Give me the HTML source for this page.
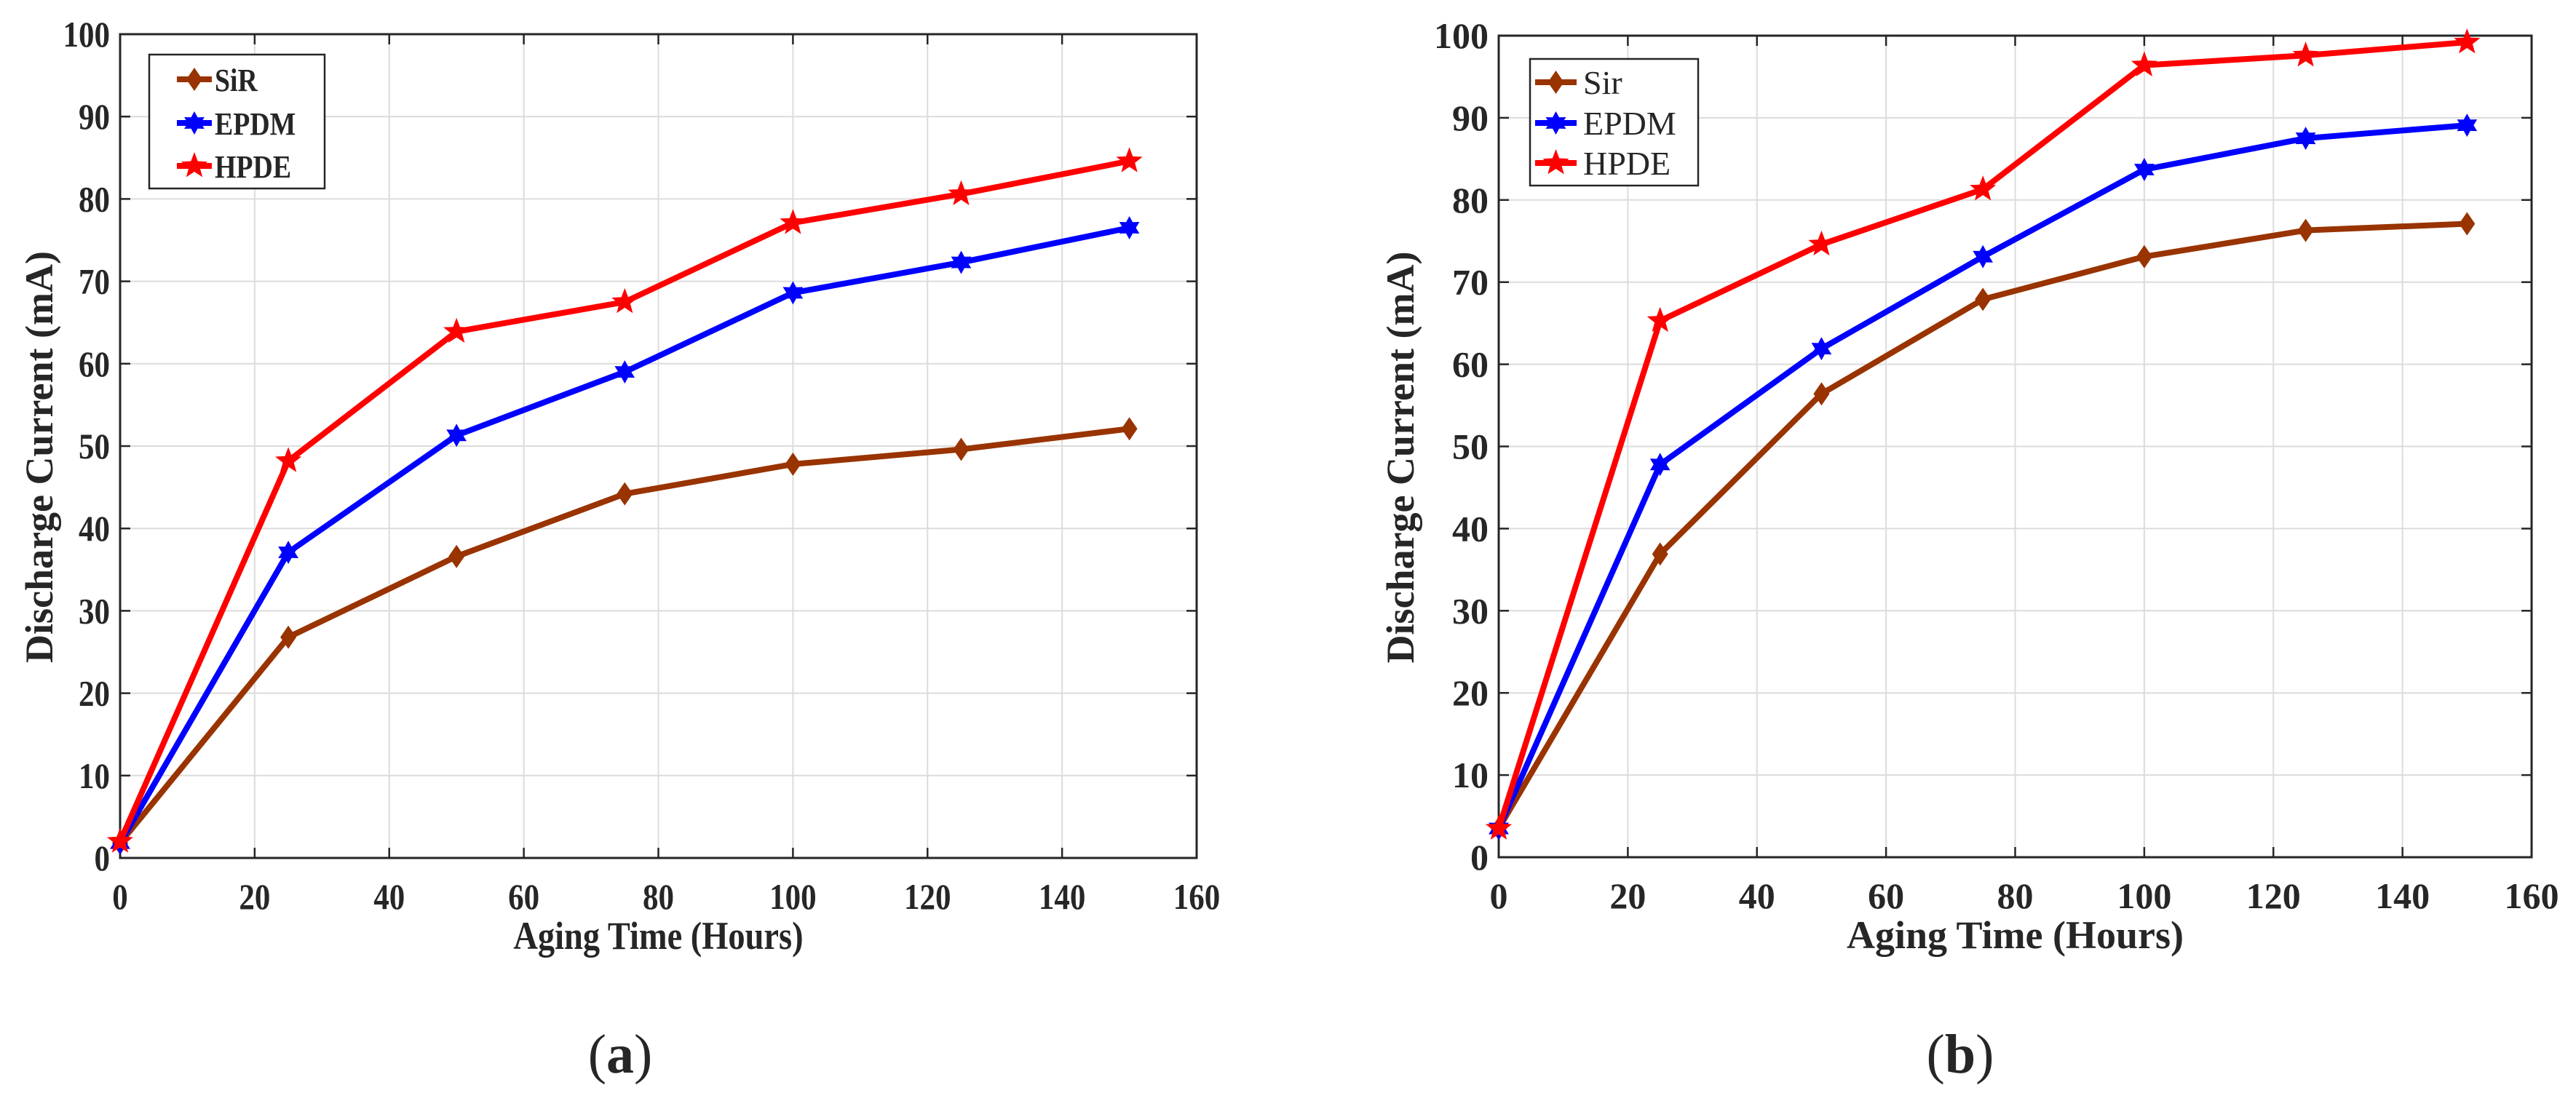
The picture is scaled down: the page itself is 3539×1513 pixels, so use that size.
<!DOCTYPE html>
<html><head><meta charset="utf-8"><title>Discharge Current vs Aging Time</title>
<style>
html,body{margin:0;padding:0;background:#fff;}
svg{display:block;}
text{font-family:"Liberation Serif",serif;fill:#262626;}
</style></head>
<body>
<svg id="fig" width="3539" height="1513" viewBox="0 0 3539 1513" xmlns="http://www.w3.org/2000/svg">
<rect x="0" y="0" width="3539" height="1513" fill="#fff"/>
</svg>
<script>
const xValues = [0, 25, 50, 75, 100, 125, 150];
const xTicks = [0, 20, 40, 60, 80, 100, 120, 140, 160];
const yTicks = [0, 10, 20, 30, 40, 50, 60, 70, 80, 90, 100];
const seriesNamesA = ["SiR", "EPDM", "HPDE"];
const sirA = [1.8, 26.8, 36.6, 44.2, 47.8, 49.6, 52.1];
const epdmA = [1.8, 37.1, 51.3, 59.0, 68.6, 72.3, 76.5];
const hpdeA = [2.0, 48.2, 63.9, 67.5, 77.1, 80.6, 84.6];
const seriesNamesB = ["Sir", "EPDM", "HPDE"];
const sirB = [3.5, 36.9, 56.4, 67.9, 73.1, 76.3, 77.1];
const epdmB = [3.5, 47.8, 61.9, 73.1, 83.7, 87.5, 89.1];
const hpdeB = [3.5, 65.3, 74.6, 81.3, 96.4, 97.6, 99.2];

const NS = "http://www.w3.org/2000/svg";
const svg = document.getElementById('fig');
function mk(tag, attrs, parent) {
  const e = document.createElementNS(NS, tag);
  for (const k in attrs) e.setAttribute(k, attrs[k]);
  (parent || svg).appendChild(e);
  return e;
}
const colors = ["#993300", "#0000ff", "#ff0000"];
const markers = ["diamond", "hexagram", "pentagram"];

function markerPath(type, cx, cy) {
  if (type === "diamond") {
    return `M${cx},${cy-16} L${cx+11},${cy} L${cx},${cy+16} L${cx-11},${cy} Z`;
  }
  let pts = [], n = type === "pentagram" ? 5 : 6;
  let R = type === "pentagram" ? 19 : 16, r = type === "pentagram" ? 8 : 9;
  for (let i = 0; i < 2 * n; i++) {
    const a = -Math.PI / 2 + i * Math.PI / n;
    const rr = i % 2 === 0 ? R : r;
    pts.push((cx + rr * Math.cos(a)).toFixed(1) + "," + (cy + rr * Math.sin(a)).toFixed(1));
  }
  return "M" + pts.join(" L") + " Z";
}

function drawChart(cfg) {
  const g = mk('g', {});
  
  
  const L = cfg.left, R = cfg.right, T = cfg.top, B = cfg.bottom;
  const sx = v => L + (v - 0) / 160 * (R - L);
  const sy = v => B - v / 100 * (B - T);
  xTicks.forEach(t => {
    if (t === 0 || t === 160) return;
    const l = mk('line', {x1: sx(t), x2: sx(t), y1: T, y2: B, stroke: '#dcdcdc', 'stroke-width': 2}, g);
    
    
  });
  yTicks.forEach(t => {
    if (t === 0 || t === 100) return;
    const l = mk('line', {x1: L, x2: R, y1: sy(t), y2: sy(t), stroke: '#dcdcdc', 'stroke-width': 2}, g);
    
    
  });
  xTicks.forEach(t => {
    const x = sx(t);
    mk('line', {x1: x, x2: x, y1: B, y2: B - 14, stroke: '#262626', 'stroke-width': 2.5}, g);
    mk('line', {x1: x, x2: x, y1: T, y2: T + 14, stroke: '#262626', 'stroke-width': 2.5}, g);
    const tx = mk('text', {x: x, y: B + 70, 'text-anchor': 'middle', 'font-size': cfg.tickFs, 'font-weight': 'bold'}, g);
    if (cfg.sqx !== 1) tx.setAttribute('transform', `translate(${x},0) scale(${cfg.sqx},1) translate(${-x},0)`);
    tx.textContent = t;
    
    
  });
  yTicks.forEach(t => {
    const y = sy(t);
    mk('line', {x1: L, x2: L + 14, y1: y, y2: y, stroke: '#262626', 'stroke-width': 2.5}, g);
    mk('line', {x1: R, x2: R - 14, y1: y, y2: y, stroke: '#262626', 'stroke-width': 2.5}, g);
    const ax = L - 14;
    const tx = mk('text', {x: ax, y: y + 17, 'text-anchor': 'end', 'font-size': cfg.tickFs, 'font-weight': 'bold'}, g);
    if (cfg.sqx !== 1) tx.setAttribute('transform', `translate(${ax},0) scale(${cfg.sqx},1) translate(${-ax},0)`);
    tx.textContent = t;
    
    
  });
  const box = mk('rect', {x: L, y: T, width: R - L, height: B - T, fill: 'none', stroke: '#262626', 'stroke-width': 3}, g);
  
  
  cfg.series.forEach((vals, si) => {
    const d = vals.map((v, i) => (i ? 'L' : 'M') + sx(xValues[i]).toFixed(1) + ',' + sy(v).toFixed(1)).join(' ');
    const p = mk('path', {d: d, fill: 'none', stroke: colors[si], 'stroke-width': 8, 'stroke-linejoin': 'round'}, g);
    
    
    vals.forEach((v, i) => {
      const m = mk('path', {d: markerPath(markers[si], sx(xValues[i]), sy(v)), fill: colors[si]}, g);
      
      
    });
  });
  const lg = mk('g', {}, g);
  
  
  const lb = cfg.legend;
  mk('rect', {x: lb.x, y: lb.y, width: lb.w, height: lb.h, fill: '#fff', stroke: '#262626', 'stroke-width': 2.5}, lg);
  cfg.names.forEach((n, si) => {
    const y = lb.rows[si];
    const e = mk('g', {}, lg);
    
    
    mk('line', {x1: lb.lx1, x2: lb.lx2, y1: y, y2: y, stroke: colors[si], 'stroke-width': 8}, e);
    mk('path', {d: markerPath(markers[si], (lb.lx1 + lb.lx2) / 2, y), fill: colors[si]}, e);
    const tx = mk('text', {x: lb.tx, y: y + 16, 'font-size': lb.fs, 'font-weight': lb.bold ? 'bold' : 'normal', fill: '#000'}, e);
    if (cfg.sqx !== 1) tx.setAttribute('transform', `translate(${lb.tx},0) scale(${cfg.sqx},1) translate(${-lb.tx},0)`);
    tx.textContent = n;
  });
  const xc = (L + R) / 2;
  const xt = mk('text', {x: xc, y: B + 125, 'text-anchor': 'middle', 'font-size': cfg.titleFs, 'font-weight': 'bold'}, g);
  if (cfg.sqx !== 1) xt.setAttribute('transform', `translate(${xc},0) scale(${cfg.sqx},1) translate(${-xc},0)`);
  xt.textContent = 'Aging Time (Hours)';
  
  
  const yc = (T + B) / 2 + 15;
  const yt = mk('text', {x: 0, y: 0, 'text-anchor': 'middle', 'font-size': cfg.titleFs, 'font-weight': 'bold', transform: `translate(${cfg.ytx},${yc}) rotate(-90)`}, g);
  yt.textContent = 'Discharge Current (mA)';
  
  
  const cap = mk('text', {x: cfg.capX, y: 1474, 'text-anchor': 'middle', 'font-size': 76, fill: '#000'}, g);
  cap.innerHTML = '(<tspan font-weight="bold">' + cfg.cap + '</tspan>)';
  
  
}

drawChart({name: 'chart-a', left: 165, right: 1644, top: 47, bottom: 1179, tickFs: 50, titleFs: 54, sqx: 0.86,
  series: [sirA, epdmA, hpdeA], names: seriesNamesA, ytx: 72, capX: 852, cap: 'a',
  legend: {x: 205, y: 75, w: 241, h: 184, rows: [109, 169, 228], lx1: 243, lx2: 291, tx: 295, fs: 44, bold: true}});
drawChart({name: 'chart-b', left: 2059, right: 3478, top: 49, bottom: 1178, tickFs: 50, titleFs: 54, sqx: 1,
  series: [sirB, epdmB, hpdeB], names: seriesNamesB, ytx: 1942, capX: 2693, cap: 'b',
  legend: {x: 2102, y: 81, w: 231, h: 174, rows: [113, 169, 224], lx1: 2109, lx2: 2166, tx: 2175, fs: 46, bold: false}});
</script>
</body></html>
